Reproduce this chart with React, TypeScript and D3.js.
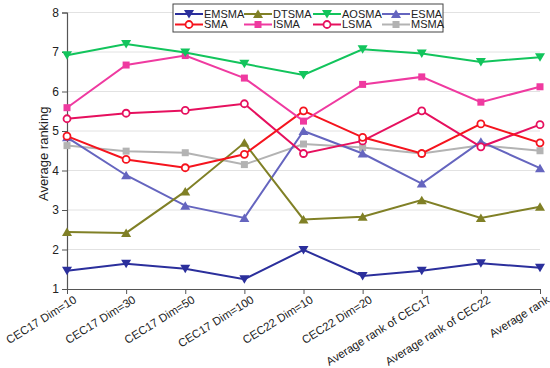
import React, { useEffect, useRef } from 'react';
import * as d3 from 'd3';

const categories = [
  'CEC17 Dim=10',
  'CEC17 Dim=30',
  'CEC17 Dim=50',
  'CEC17 Dim=100',
  'CEC22 Dim=10',
  'CEC22 Dim=20',
  'Average rank of CEC17',
  'Average rank of CEC22',
  'Average rank',
];

const emsma = [1.46, 1.64, 1.51, 1.25, 1.99, 1.33, 1.46, 1.65, 1.54];
const dtsma = [2.44, 2.42, 3.47, 4.7, 2.76, 2.83, 3.25, 2.8, 3.08];
const aosma = [6.92, 7.2, 6.99, 6.7, 6.42, 7.07, 6.96, 6.75, 6.87];
const esma = [4.84, 3.88, 3.11, 2.8, 5.0, 4.43, 3.67, 4.73, 4.06];
const sma = [4.87, 4.28, 4.07, 4.41, 5.51, 4.84, 4.43, 5.18, 4.7];
const isma = [5.59, 6.67, 6.91, 6.34, 5.25, 6.18, 6.37, 5.73, 6.12];
const lsma = [5.31, 5.45, 5.52, 5.69, 4.43, 4.75, 5.51, 4.6, 5.16];
const msma = [4.63, 4.49, 4.45, 4.15, 4.67, 4.58, 4.43, 4.64, 4.5];

const yTicks = [1, 2, 3, 4, 5, 6, 7, 8];

type Marker = 'down' | 'up' | 'circle' | 'square';

const series: { name: string; values: number[]; color: string; marker: Marker }[] = [
  { name: 'EMSMA', values: emsma, color: '#2b2f9c', marker: 'down' },
  { name: 'DTSMA', values: dtsma, color: '#808026', marker: 'up' },
  { name: 'AOSMA', values: aosma, color: '#12c45c', marker: 'down' },
  { name: 'ESMA', values: esma, color: '#6565bf', marker: 'up' },
  { name: 'SMA', values: sma, color: '#f5141e', marker: 'circle' },
  { name: 'ISMA', values: isma, color: '#ef3aa0', marker: 'square' },
  { name: 'LSMA', values: lsma, color: '#e6105e', marker: 'circle' },
  { name: 'MSMA', values: msma, color: '#b3b3b3', marker: 'square' },
];

// draw order so the picture layers like the original
const drawOrder = ['MSMA', 'ESMA', 'DTSMA', 'EMSMA', 'LSMA', 'SMA', 'ISMA', 'AOSMA'];

const drawMarker = (g: d3.Selection<SVGGElement, unknown, null, undefined>, type: Marker, color: string, x: number, y: number) => {
  if (type === 'circle') {
    g.append('circle').attr('cx', x).attr('cy', y).attr('r', 3.5)
      .attr('fill', '#fff').attr('stroke', color).attr('stroke-width', 1.8);
  } else if (type === 'square') {
    g.append('rect').attr('x', x - 3.5).attr('y', y - 3.5).attr('width', 7).attr('height', 7)
      .attr('fill', color);
  } else {
    const s = 5;
    const pts = type === 'down'
      ? [[x - s, y - s * 0.8], [x + s, y - s * 0.8], [x, y + s * 0.9]]
      : [[x - s, y + s * 0.8], [x + s, y + s * 0.8], [x, y - s * 0.9]];
    g.append('polygon').attr('points', pts.map(p => p.join(',')).join(' '))
      .attr('fill', color);
  }
};

const App: React.FC = () => {
  const svgRef = useRef<SVGSVGElement>(null);

  useEffect(() => {
    if (!svgRef.current) return;
    const svg = d3.select(svgRef.current);
    svg.selectAll('*').remove();

    const x = d3.scalePoint<string>().domain(categories).range([67, 540]);
    const y = d3.scaleLinear().domain([1, 8]).range([289, 12.5]);
    const font = 'Liberation Sans, Arial, sans-serif';

    // grid
    svg.append('g').selectAll('line')
      .data(yTicks.filter(t => t > 1))
      .enter().append('line')
      .attr('x1', 67).attr('x2', 540)
      .attr('y1', d => y(d)).attr('y2', d => y(d))
      .attr('stroke', '#e2e2e2').attr('stroke-width', 1);

    // y axis
    const yAxis = svg.append('g')
      .attr('transform', 'translate(67,0)')
      .call(d3.axisLeft(y).tickValues(yTicks).tickSize(5).tickFormat(d3.format('d')) as any);
    yAxis.select('.domain').attr('stroke', '#555').attr('stroke-width', 1.2);
    yAxis.selectAll('.tick line').attr('stroke', '#555');
    yAxis.selectAll('text').attr('font-family', font).attr('font-size', 12).attr('fill', '#222').attr('x', -8);

    // x axis
    const xAxis = svg.append('g')
      .attr('transform', 'translate(0,289)')
      .call(d3.axisBottom(x).tickSize(5).tickSizeOuter(0) as any);
    xAxis.select('.domain').attr('stroke', '#555').attr('stroke-width', 1.2);
    xAxis.selectAll('.tick line').attr('stroke', '#555');
    xAxis.selectAll('text')
      .attr('font-family', font).attr('font-size', 11.5).attr('fill', '#222')
      .attr('text-anchor', 'end')
      .attr('x', 0).attr('y', 0).attr('dy', '0.8em')
      .attr('transform', 'translate(5,5) rotate(-32)');

    svg.append('text')
      .attr('transform', `translate(43,${(y(1) + y(8)) / 2 + 3}) rotate(-90)`)
      .attr('text-anchor', 'middle')
      .attr('dy', '0.35em')
      .attr('font-family', font).attr('font-size', 13).attr('fill', '#222')
      .text('Average ranking');

    const line = d3.line<number>()
      .x((_, i) => x(categories[i]) as number)
      .y(d => y(d));

    drawOrder.forEach(name => {
      const s = series.find(d => d.name === name)!;
      const g = svg.append('g');
      g.append('path').attr('d', line(s.values) as string)
        .attr('fill', 'none').attr('stroke', s.color).attr('stroke-width', 2);
      s.values.forEach((v, i) => drawMarker(g as any, s.marker, s.color, x(categories[i]) as number, y(v)));
    });

    // legend
    const legend = svg.append('g');
    legend.append('rect')
      .attr('x', 173).attr('y', 4).attr('width', 270).attr('height', 28)
      .attr('fill', '#fff').attr('stroke', '#444').attr('stroke-width', 1);
    series.forEach((s, i) => {
      const col = i % 4;
      const row = Math.floor(i / 4);
      const x0 = 175 + col * 69;
      const yy = 14 + row * 10.5;
      const g = legend.append('g');
      g.append('line').attr('x1', x0).attr('x2', x0 + 28).attr('y1', yy).attr('y2', yy)
        .attr('stroke', s.color).attr('stroke-width', 2);
      drawMarker(g as any, s.marker, s.color, x0 + 14, yy);
      g.append('text').attr('x', x0 + 29).attr('y', yy).attr('dy', '0.36em')
        .attr('font-family', font).attr('font-size', 11).attr('fill', '#222')
        .text(s.name);
    });
  }, []);

  return <svg ref={svgRef} width={550} height={368} style={{ display: 'block', position: 'absolute', left: 0, top: 0 }} />;
};

export default App;
